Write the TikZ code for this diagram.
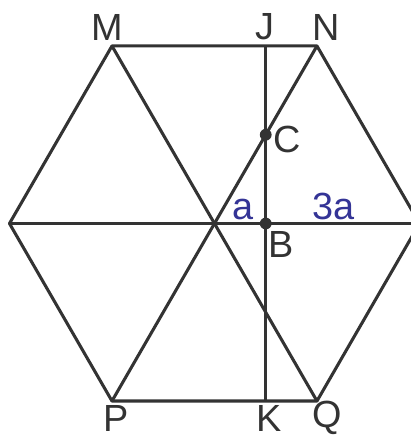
\documentclass[tikz,border=0pt]{standalone}
\usepackage{fontspec}
\setmainfont{Liberation Sans}
\usetikzlibrary{positioning}
\definecolor{hexline}{RGB}{51,51,51}
\definecolor{lenblue}{RGB}{52,52,150}
\tikzset{
    edge/.style={draw=hexline, line width=1.7pt, line join=round},
    ptlabel/.style={font=\fontsize{21}{25}\selectfont, text=hexline, inner sep=0pt},
    lenlabel/.style={font=\fontsize{21}{25}\selectfont, text=lenblue, inner sep=0pt, anchor=base},
    dot/.style={circle, fill=hexline, inner sep=0pt, minimum size=0.23cm}
}
\begin{document}
\begin{tikzpicture}
    \useasboundingbox (-4.185,-4.166) rectangle (3.834,4.361);

    % hexagon corners
    \coordinate (M) at (-2,3.464);
    \coordinate (N) at (2,3.464);
    \coordinate (R) at (4,0);
    \coordinate (Q) at (2,-3.464);
    \coordinate (P) at (-2,-3.464);
    \coordinate (L) at (-4,0);
    \coordinate (J) at (1,3.464);
    \coordinate (K) at (1,-3.464);

    \draw[edge] (M) -- (N) -- (R) -- (Q) -- (P) -- (L) -- cycle;
    \draw[edge] (M) -- (Q);
    \draw[edge] (N) -- (P);
    \draw[edge] (L) -- (R);
    \draw[edge] (J) -- (K);

    \node[dot] (C) at (1,1.732) {};
    \node[dot] (B) at (1,0) {};

    \node[ptlabel] (lM) at (-2.09,3.83) {M};
    \node[ptlabel] (lJ) at (0.99,3.84) {J};
    \node[ptlabel] (lN) at (2.18,3.83) {N};
    \node[ptlabel] (lC) at (1.42,1.64) {C};
    \node[ptlabel] (lB) at (1.30,-0.41) {B};
    \node[ptlabel] (lP) at (-1.92,-3.80) {P};
    \node[ptlabel] (lK) at (1.06,-3.80) {K};
    \node[ptlabel] (lQ) at (2.19,-3.80) {Q};

    \node[lenlabel] (la) at (0.55,0.07) {a};
    \node[lenlabel] (l3a) at (2.33,0.07) {3a};
\end{tikzpicture}
\end{document}
